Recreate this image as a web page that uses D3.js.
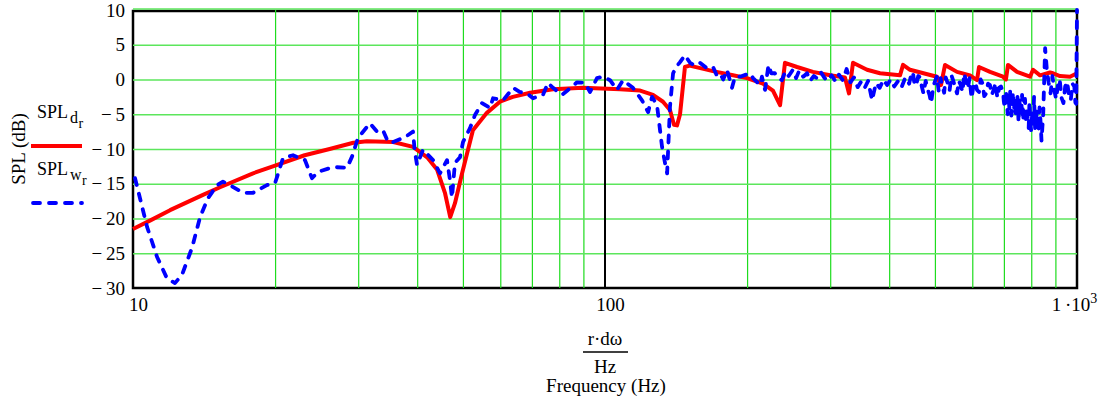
<!DOCTYPE html>
<html>
<head>
<meta charset="utf-8">
<script src="https://cdn.jsdelivr.net/npm/d3@7"></script>
<style>
  body { margin: 0; background: #fff; }
  svg { display: block; }
  svg text { font-family: "Liberation Serif", "Times New Roman", serif; fill: #000; }
</style>
</head>
<body>
<div id="chart"></div>
<script>
// SPL_d (red, solid)
const freqD = [10, 10.86, 11.98, 14.07, 15.29, 17.96, 20.0, 23.1, 26.1, 29.3, 31.3, 35.6, 39.2, 42.0, 44.1, 45.8, 47.0, 48.1, 49.8, 52.5,
  56.2, 59.9, 63.8, 69.4, 77.6, 89.8, 107.6, 118.7, 126.4, 132.7, 137.3, 140.0, 142.1, 144.2, 147.7, 151, 160, 169.3, 186.7, 199.9,
  216.1, 226.9, 234.9, 240.6, 255.2, 275.8, 299.8, 322.4, 328.8, 335.3, 359.1, 382.5, 421.7, 428, 442.8, 505, 515, 525.3, 556.9, 593.4,
  614, 620, 654.3, 697, 707, 714.2, 746.3, 795.3, 807, 835, 876.7, 889.7, 920, 966.5, 1000];
const splD = [-21.5, -20.3, -18.8, -16.6, -15.5, -13.5, -12.4, -10.9, -10.0, -9.1, -8.9, -9.0, -9.7, -11.2, -13.0, -16.3, -19.8, -17.8, -13.5, -7.3,
  -4.8, -3.2, -2.5, -1.9, -1.4, -1.2, -1.4, -1.6, -2.2, -3.2, -4.4, -6.5, -6.6, -5.0, 1.8, 2.0, 1.6, 1.2, 0.6, 0.2,
  -0.6, -1.6, -3.7, 2.4, 1.8, 1.1, 0.6, 0.3, -2.0, 2.4, 1.4, 0.9, 0.6, 2.1, 1.4, 0.4, -0.8, 2.1, 1.1, 0.6,
  -0.1, 1.8, 1.1, 0.4, 0.0, 2.1, 1.1, 0.4, 1.4, 0.6, 1.0, 0.9, 0.5, 0.4, 0.9];

// SPL_w (blue, dashed)
const freqW = [10.1, 10.71, 11.24, 11.80, 12.27, 12.70, 13.34, 13.87, 14.41, 15.07, 15.51, 16.05, 17.11, 17.96, 19.22, 20.0, 20.79, 21.83, 23.14, 23.94,
  24.65, 26.52, 28.41, 29.11, 29.97, 31.78, 32.88, 33.86, 34.70, 35.55, 37.70, 39.20, 39.5, 39.97, 41.16, 43.22, 44.71, 46.27, 46.95, 47.40,
  48.10, 49.29, 50.02, 51.76, 53.04, 54.88, 57.07, 57.91, 60.81, 63.85, 66.07, 68.37, 70.41, 73.91, 75.73, 77.60, 81.09, 83.50, 87.24, 90.72,
  92.96, 96.18, 99.03, 102.5, 106.0, 109.2, 114.6, 119.8, 123.4, 125.8, 128.9, 130.8, 132.1, 134.0, 135.4, 137.3, 139.4, 141.5, 144.2, 147.7,
  151.4, 155, 159.0, 164.5, 169.4, 172.5, 175.3, 178, 181.3, 185.8, 188.5, 193.2, 202.9, 205.9, 213.1, 215, 218.3, 222,
  225, 229, 233, 237, 241, 245, 250, 254, 258, 263, 268, 272, 277, 282, 287, 292, 297, 302, 308, 313,
  319, 325, 331, 337, 343, 349, 355, 361, 368, 375, 382, 389, 396, 403, 410, 418, 425, 433,
  441, 445, 449, 453, 457, 461, 465, 469, 473, 478,
  482, 487, 491, 496, 500, 505, 509, 514, 518, 523,
  527, 532, 537, 542, 547, 552, 557, 562, 567, 572,
  577, 582, 587, 592, 598, 603, 609, 614, 620, 625,
  631, 636, 642, 648, 654, 660, 666, 672, 678, 684,
  690, 697, 700, 703, 707, 710, 713, 716, 719, 722,
  726, 729, 732, 735, 738, 742, 745, 748, 752, 755,
  758, 762, 765, 769, 772, 776, 780, 783, 786, 790,
  793, 797, 800, 804, 807, 811, 815, 818, 822, 826,
  829, 833, 837, 841, 848, 856, 863, 871, 879, 887,
  895, 903, 911, 919, 927, 936, 944, 953, 961, 970,
  978, 987, 992, 996, 1000];
const splW = [-14.2, -21.2, -25.5, -28.6, -29.3, -28.1, -24.2, -19.8, -17.1, -15.2, -14.7, -15.2, -16.3, -16.3, -15.2, -14.9, -11.3, -10.9, -11.6, -14.2,
  -13.3, -12.6, -12.7, -11.1, -8.4, -6.3, -7.5, -7.3, -9.0, -9.0, -8.3, -7.5, -10.1, -12.3, -10.1, -11.6, -13.5, -11.6, -14.5, -17.0,
  -12.0, -11.2, -9.0, -7.0, -5.1, -3.4, -4.1, -2.7, -3.0, -1.2, -1.8, -2.0, -2.7, -2.2, -0.5, -1.2, -2.2, -1.5, -0.4, -0.5,
  -1.8, 0.2, 0.4, -0.1, -1.5, -0.1, -1.2, -3.0, -4.7, -2.5, -3.7, -7.3, -9.7, -12.0, -13.5, -3.9, 0.9, 1.8, 2.5, 3.5,
  2.4, 2.0, 2.4, 1.6, 1.8, 0.6, 0.9, 0.0, 1.4, -1.2, 0.4, 0.4, 0.9, 0.2, -0.8, 0.4, -1.5, 2.1,
  0.9, 0.9, 0.2, -0.1, 1.2, 0.5, 1.4, 0.2, 1.3, 0.4, 0.9, -0.2, 0.5, 0.1, 1.0, 0.2, -0.2, 0.6, -0.3, 0.7,
  -0.1, 1.5, -0.4, 0.3, -1.1, -0.3, -1.2, -0.2, -3.0, -0.5, -1.2, 0.0, -0.8, 0.0, -1.0, -0.2, -1.1, 0.3,
  -0.6, 0.6, 1.1, -0.9, -0.6, 0.5, 0.3, -1.0, -2.0, -0.2,
  -1.3, -2.2, -3.4, -1.0, -0.3, 0.5, -1.6, 0.2, -0.8, -1.9,
  0.3, -0.5, -1.6, 0.6, -0.2, -1.2, -2.0, -0.2, -0.8, -1.8,
  0.9, -0.3, -1.3, 0.2, -2.7, -1.0, -0.4, -1.5, -1.8, 0.0,
  -0.6, -2.4, -2.0, -0.6, -0.8, -2.2, -1.5, -0.5, -2.6, -1.2,
  -1.0, -1.8, -3.2, -4.1, -1.6, -3.0, -5.0, -2.2, -4.2, -1.5,
  -5.2, -3.4, -1.8, -4.5, -2.8, -5.5, -3.8, -2.5, -6.2, -3.0,
  -4.6, -5.0, -2.2, -6.0, -3.6, -2.8, -6.3, -4.0, -5.6, -7.0,
  -3.2, -6.5, -7.5, -4.5, -6.5, -2.5, -7.0, -6.8, -4.5, -5.5,
  -7.5, -4.0, -6.0, -8.8, -5.0, 4.5, 1.5, -0.5, -2.0, 0.5,
  -1.5, -2.8, -0.8, 0.0, -2.6, -3.4, -1.0, -0.3, -2.2, -3.0,
  -0.6, -1.0, -3.3, -3.5, 10];

const yTicks = [10, 5, 0, -5, -10, -15, -20, -25, -30];
const xLabelTicks = [10, 100, 1000];
const xGridTicks = [20, 30, 40, 50, 60, 70, 80, 90, 200, 300, 400, 500, 600, 700, 800, 900];

const W = 1099, H = 400;
const mLeft = 133, mRight = 1077, mTop = 10, mBottom = 288;
const serif = "'Liberation Serif', 'Times New Roman', serif";

const svg = d3.select("#chart").append("svg")
    .attr("width", W)
    .attr("height", H);

const x = d3.scaleLog().domain([10, 1000]).range([mLeft, mRight]);
const y = d3.scaleLinear().domain([-30, 10]).range([mBottom, mTop]);

svg.append("defs").append("clipPath")
    .attr("id", "plotClip")
    .append("rect")
    .attr("x", mLeft - 2).attr("y", mTop - 2)
    .attr("width", mRight - mLeft + 4).attr("height", mBottom - mTop + 4);

// frame
svg.append("rect")
    .attr("x", mLeft).attr("y", mTop + 1)
    .attr("width", mRight - mLeft).attr("height", mBottom - mTop - 1)
    .attr("fill", "none")
    .attr("stroke", "#000")
    .attr("stroke-width", 2.5);

// vertical grid
const xGrid = svg.append("g")
    .attr("transform", "translate(0," + mBottom + ")")
    .call(d3.axisBottom(x).tickValues(xGridTicks).tickSize(-(mBottom - mTop)).tickFormat(""));
xGrid.select(".domain").remove();
xGrid.selectAll("line").attr("stroke", "#1edc1e").attr("stroke-width", 1.2);

// horizontal grid
const yGrid = svg.append("g")
    .attr("transform", "translate(" + mLeft + ",0)")
    .call(d3.axisLeft(y).tickValues(yTicks.filter(d => d > -30)).tickSize(-(mRight - mLeft)).tickFormat(""));
yGrid.select(".domain").remove();
yGrid.selectAll("line").attr("stroke", "#5ce65c").attr("stroke-width", 1.5);
yGrid.selectAll(".tick").filter(d => d === 10).select("line").attr("y1", -1.5).attr("y2", -1.5);

// black marker line at 100 Hz
svg.append("line")
    .attr("x1", x(100)).attr("x2", x(100))
    .attr("y1", mTop).attr("y2", mBottom)
    .attr("stroke", "#000")
    .attr("stroke-width", 2);

// y tick labels
const yAxis = svg.append("g")
    .attr("transform", "translate(" + mLeft + ",0)")
    .call(d3.axisLeft(y).tickValues(yTicks).tickSize(0).tickPadding(8)
        .tickFormat(d => d < 0 ? "\u2212\u2009" + (-d) : String(d)));
yAxis.select(".domain").remove();
yAxis.style("font-family", serif).style("font-size", "19px");
yAxis.selectAll("text").style("font-family", serif).style("font-size", "19px").attr("fill", "#000");

// x tick labels
const xAxis = svg.append("g")
    .attr("transform", "translate(0," + mBottom + ")")
    .call(d3.axisBottom(x).tickValues(xLabelTicks).tickSize(0).tickPadding(10)
        .tickFormat(d => d === 1000 ? "" : String(d)));
xAxis.select(".domain").remove();
xAxis.style("font-family", serif).style("font-size", "19px");
xAxis.selectAll("text").style("font-family", serif).style("font-size", "19px")
    .attr("fill", "#000").attr("dx", 5);
const lastLabel = xAxis.selectAll(".tick").filter(d => d === 1000).select("text")
    .attr("dx", -3);
lastLabel.append("tspan").text("1\u2009\u00b710");
lastLabel.append("tspan").style("font-size", "14px").attr("dy", -8).text("3");

// curves
const plot = svg.append("g").attr("clip-path", "url(#plotClip)");

const line = d3.line()
    .x(d => x(d[0]))
    .y(d => y(d[1]));

plot.append("path")
    .datum(d3.zip(freqD, splD))
    .attr("d", line)
    .attr("fill", "none")
    .attr("stroke", "#ff0000")
    .attr("stroke-width", 4)
    .attr("stroke-linejoin", "round");

plot.append("path")
    .datum(d3.zip(freqW, splW))
    .attr("d", line)
    .attr("fill", "none")
    .attr("stroke", "#0000ff")
    .attr("stroke-width", 3.8)
    .attr("stroke-dasharray", "7,9")
    .attr("stroke-linecap", "round")
    .attr("stroke-linejoin", "round");

// legend
function legendLabel(yBase, sub) {
    svg.append("text").attr("x", 37).attr("y", yBase).style("font-size", "18px").text("SPL");
    svg.append("text").attr("x", 70).attr("y", yBase + 5).style("font-size", "16px").text(sub);
    svg.append("text").attr("x", sub === "w" ? 82 : 78.5).attr("y", yBase + 10).style("font-size", "14px").text("r");
}
legendLabel(118, "d");
svg.append("line")
    .attr("x1", 31).attr("x2", 82).attr("y1", 146).attr("y2", 146)
    .attr("stroke", "#ff0000").attr("stroke-width", 4);
legendLabel(175, "w");
svg.append("line")
    .attr("x1", 33).attr("x2", 82).attr("y1", 203).attr("y2", 203)
    .attr("stroke", "#0000ff").attr("stroke-width", 3.8)
    .attr("stroke-dasharray", "7,9").attr("stroke-linecap", "round");

// y axis title
svg.append("text")
    .attr("transform", "translate(25,149) rotate(-90)")
    .attr("text-anchor", "middle")
    .style("font-size", "19px")
    .text("SPL (dB)");

// x axis title: r·dω / Hz, then Frequency (Hz)
const cx = x(100);
svg.append("text").attr("x", cx).attr("y", 345).attr("text-anchor", "middle")
    .style("font-size", "19px").text("r\u00b7d\u03c9");
svg.append("line")
    .attr("x1", cx - 22).attr("x2", cx + 23).attr("y1", 352).attr("y2", 352)
    .attr("stroke", "#000").attr("stroke-width", 1.5);
svg.append("text").attr("x", cx).attr("y", 373).attr("text-anchor", "middle")
    .style("font-size", "19px").text("Hz");
svg.append("text").attr("x", cx + 1).attr("y", 392).attr("text-anchor", "middle")
    .style("font-size", "19px").text("Frequency (Hz)");
</script>
</body>
</html>
